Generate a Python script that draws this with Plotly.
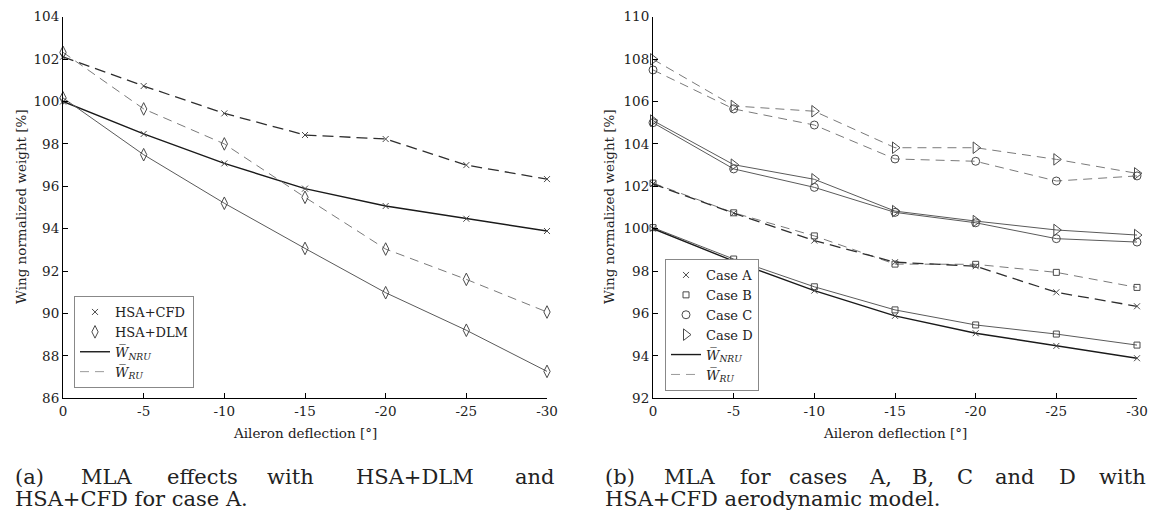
import plotly.graph_objects as go

W, H = 1151, 520

deflection = [0, -5, -10, -15, -20, -25, -30]
x_ticks = [0, -5, -10, -15, -20, -25, -30]
x_ticklabels = ["0", "-5", "-10", "-15", "-20", "-25", "-30"]
y_ticks_a = [86, 88, 90, 92, 94, 96, 98, 100, 102, 104]
y_ticks_b = [92, 94, 96, 98, 100, 102, 104, 106, 108, 110]

# (a) case A
cfd_nru = [100.0, 98.47, 97.08, 95.89, 95.07, 94.47, 93.89]
cfd_ru = [102.11, 100.73, 99.44, 98.42, 98.23, 97.0, 96.34]
dlm_nru = [100.17, 97.49, 95.2, 93.07, 90.98, 89.21, 87.27]
dlm_ru = [102.32, 99.65, 98.0, 95.48, 93.04, 91.61, 90.07]

# (b) cases A-D (HSA+CFD)
a_nru = [100.0, 98.47, 97.08, 95.89, 95.07, 94.47, 93.89]
a_ru = [102.11, 100.73, 99.44, 98.42, 98.23, 97.0, 96.34]
b_nru = [100.05, 98.57, 97.26, 96.17, 95.46, 95.03, 94.51]
b_ru = [102.15, 100.75, 99.66, 98.33, 98.32, 97.94, 97.23]
c_nru = [105.0, 102.82, 101.95, 100.77, 100.28, 99.53, 99.37]
c_ru = [107.49, 105.65, 104.89, 103.29, 103.18, 102.25, 102.49]
d_nru = [105.1, 103.02, 102.33, 100.83, 100.36, 99.94, 99.7]
d_ru = [107.99, 105.79, 105.54, 103.82, 103.82, 103.27, 102.61]

FONT = "DejaVu Serif"
BLACK = "#1a1a1a"
DARK = "#2e2e2e"
GRAY = "#5a5a5a"
LGRAY = "#7a7a7a"
MK = "#4a4a4a"

def px(x):
    return x / W

def py(y):
    return 1 - y / H

fig = go.Figure()

def series(y, xa, ya, color, width, dash, symbol, msize):
    fig.add_trace(go.Scatter(
        x=deflection, y=y, xaxis=xa, yaxis=ya, mode="lines+markers",
        line=dict(color=color, width=width, dash=dash),
        marker=dict(symbol=symbol, size=msize, color=MK, line=dict(color=MK, width=1)),
        showlegend=False, hoverinfo="skip", cliponaxis=False))

SOLID = "solid"
DASH_DK = "11px,6px"
DASH_LT = "9px,6px"

# Panel (a)
series(cfd_nru, "x", "y", BLACK, 1.4, SOLID, "x-thin-open", 6)
series(cfd_ru, "x", "y", DARK, 1.3, DASH_DK, "x-thin-open", 6)
series(dlm_nru, "x", "y", GRAY, 1.0, SOLID, "diamond-tall-open", 9)
series(dlm_ru, "x", "y", LGRAY, 1.0, DASH_LT, "diamond-tall-open", 9)

# Panel (b)
series(c_ru, "x2", "y2", LGRAY, 1.0, DASH_LT, "circle-open", 8)
series(d_ru, "x2", "y2", LGRAY, 1.0, DASH_LT, "triangle-right-open", 10)
series(c_nru, "x2", "y2", GRAY, 1.0, SOLID, "circle-open", 8)
series(d_nru, "x2", "y2", GRAY, 1.0, SOLID, "triangle-right-open", 10)
series(b_ru, "x2", "y2", LGRAY, 1.0, DASH_LT, "square-open", 6)
series(b_nru, "x2", "y2", GRAY, 1.0, SOLID, "square-open", 6)
series(a_ru, "x2", "y2", DARK, 1.3, DASH_DK, "x-thin-open", 6)
series(a_nru, "x2", "y2", BLACK, 1.4, SOLID, "x-thin-open", 6)

NRU = "<i>W\u0305</i><sub><i>NRU</i></sub>"
RU = "<i>W\u0305</i><sub><i>RU</i></sub>"

def leg_marker(name, symbol, size, legend):
    fig.add_trace(go.Scatter(x=[None], y=[None], mode="markers", name=name, legend=legend,
                             marker=dict(symbol=symbol, size=size, color=MK, line=dict(color=MK, width=1))))

def leg_line(name, color, dash, width, legend):
    fig.add_trace(go.Scatter(x=[None], y=[None], mode="lines", name=name, legend=legend,
                             line=dict(color=color, dash=dash, width=width)))

leg_marker("HSA+CFD", "x-thin-open", 6, "legend")
leg_marker("HSA+DLM", "diamond-tall-open", 9, "legend")
leg_line(NRU, BLACK, SOLID, 1.4, "legend")
leg_line(RU, "#9a9a9a", DASH_LT, 1.0, "legend")

leg_marker("Case A", "x-thin-open", 6, "legend2")
leg_marker("Case B", "square-open", 6, "legend2")
leg_marker("Case C", "circle-open", 8, "legend2")
leg_marker("Case D", "triangle-right-open", 10, "legend2")
leg_line(NRU, BLACK, SOLID, 1.4, "legend2")
leg_line(RU, "#9a9a9a", DASH_LT, 1.0, "legend2")

tickfont = dict(family=FONT, size=13.5, color="#222")
axis_common = dict(showline=True, linecolor="black", linewidth=1, ticks="inside", ticklen=5,
                   tickcolor="black", tickwidth=1, showgrid=False, zeroline=False,
                   tickfont=tickfont, mirror=False, automargin=False)

plot_top, plot_bot = 16.7, 398.3
legfont = dict(family=FONT, size=13, color="#222")
fig.update_layout(
    template="none",
    width=W, height=H, margin=dict(l=0, r=0, t=0, b=0, pad=0, autoexpand=False),
    plot_bgcolor="white", paper_bgcolor="white",
    font=dict(family=FONT, size=14, color="#222"),
    xaxis=dict(domain=[px(63), px(547)], range=[0, -30], tickvals=x_ticks, ticktext=x_ticklabels,
               anchor="y", **axis_common),
    yaxis=dict(domain=[py(plot_bot), py(plot_top)], range=[86, 104], tickvals=y_ticks_a,
               anchor="x", **axis_common),
    xaxis2=dict(domain=[px(653), px(1137)], range=[0, -30], tickvals=x_ticks, ticktext=x_ticklabels,
                anchor="y2", **axis_common),
    yaxis2=dict(domain=[py(plot_bot), py(plot_top)], range=[92, 110], tickvals=y_ticks_b,
                anchor="x2", **axis_common),
    legend=dict(x=px(74), y=py(388), xanchor="left", yanchor="bottom", bgcolor="white",
                bordercolor="#888", borderwidth=1, font=legfont,
                tracegroupgap=0, itemwidth=30),
    legend2=dict(x=px(665), y=py(391), xanchor="left", yanchor="bottom", bgcolor="white",
                 bordercolor="#888", borderwidth=1, font=legfont,
                 tracegroupgap=0, itemwidth=30),
)

ann = []
def text(x, y, s, size, xanchor="center", yanchor="middle", angle=0):
    ann.append(dict(x=px(x), y=py(y), xref="paper", yref="paper", text=s, showarrow=False,
                    xanchor=xanchor, yanchor=yanchor, textangle=angle,
                    font=dict(family=FONT, size=size, color="#222")))

# axis titles
text(305, 433, "Aileron deflection [°]", 13.5)
text(895, 433, "Aileron deflection [°]", 13.5)
text(21, 207, "Wing normalized weight [%]", 13.5, angle=-90)
text(609, 207, "Wing normalized weight [%]", 13.5, angle=-90)

# captions (justified first lines)
CAP = 21
cap_a = [("(a)", 30), ("MLA", 106), ("effects", 202), ("with", 290), ("HSA+DLM", 415), ("and", 535)]
cap_b = [("(b)", 620), ("MLA", 689), ("for", 755), ("cases", 818), ("A,", 880), ("B,", 923),
         ("C", 965), ("and", 1015), ("D", 1067), ("with", 1122)]
for w, cx in cap_a + cap_b:
    text(cx, 477, w, CAP)
text(13, 499, "HSA+CFD for case A.", CAP, xanchor="left")
text(603, 499, "HSA+CFD aerodynamic model.", CAP, xanchor="left")

fig.update_layout(annotations=ann)
fig.write_html("out.html", config={"displayModeBar": False},
               post_script="document.body.style.margin='0px';")
